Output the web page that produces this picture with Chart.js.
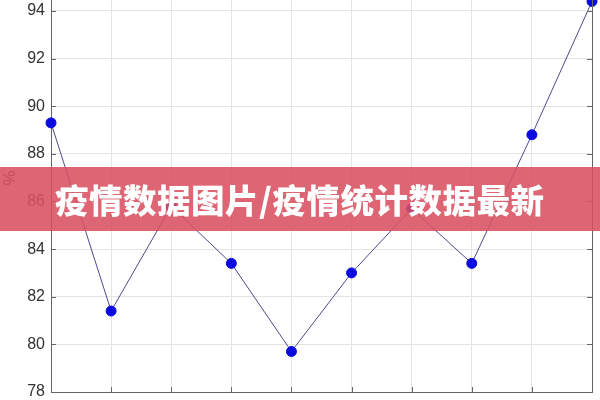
<!DOCTYPE html>
<html>
<head>
<meta charset="utf-8">
<script src="https://cdn.jsdelivr.net/npm/chart.js@4"></script>
<style>
  html, body { margin: 0; padding: 0; background: #fff; }
  #wrap { position: relative; width: 600px; height: 400px; }
  #ytitle {
    position: absolute; left: 0; top: 168px; width: 20px; height: 20px;
    font-family: "Liberation Sans", sans-serif; font-size: 17px; color: #333;
    line-height: 20px; text-align: center; transform: rotate(-90deg);
  }
  #banner {
    position: absolute; left: 0; top: 167px; width: 600px; height: 64px;
    background: rgba(218, 80, 96, 0.88);
    color: #fff; font-family: "Noto Sans CJK SC", sans-serif; font-weight: 900;
    font-size: 33.5px; line-height: 64px; padding-left: 55px; box-sizing: border-box;
    letter-spacing: 0.5px;
  }
</style>
</head>
<body>
<div id="wrap">
  <canvas id="lineChart" width="600" height="400"></canvas>
  <div id="ytitle">%</div>
  <div id="banner">疫情数据图片/疫情统计数据最新</div>
</div>
<script>
// Dados do gráfico
const categorias = [1, 2, 3, 4, 5, 6, 7, 8, 9, 10];
const valores = [89.3, 81.4, 85.8, 83.4, 79.7, 83.0, 85.7, 83.4, 88.8, 94.4];
const yTicks = [78, 80, 82, 84, 86, 88, 90, 92, 94];

// Moldura e marcas internas (estilo matlab)
const frame = {
  id: 'frame',
  afterDraw(chart) {
    const { ctx, chartArea, scales } = chart;
    ctx.save();
    ctx.strokeStyle = '#666';
    ctx.lineWidth = 1;
    ctx.beginPath();
    ctx.moveTo(chartArea.right + 0.5, chartArea.top);
    ctx.lineTo(chartArea.right + 0.5, chartArea.bottom);
    yTicks.forEach(v => {
      const y = Math.round(scales.y.getPixelForValue(v)) + 0.5;
      ctx.moveTo(chartArea.left, y);
      ctx.lineTo(chartArea.left + 5, y);
      ctx.moveTo(chartArea.right, y);
      ctx.lineTo(chartArea.right - 5, y);
    });
    categorias.forEach((c, i) => {
      const x = Math.round(scales.x.getPixelForValue(i)) + 0.5;
      ctx.moveTo(x, chartArea.bottom);
      ctx.lineTo(x, chartArea.bottom - 5);
    });
    ctx.stroke();
    ctx.restore();
  }
};

function initLineChart() {
  const ctx = document.getElementById('lineChart');
  if (!ctx) return;

  new Chart(ctx, {
    type: 'line',
    data: {
      labels: categorias,
      datasets: [{
        data: valores,
        borderColor: '#4b4b8c',
        borderWidth: 1,
        pointBackgroundColor: '#0a0ae0',
        pointBorderColor: '#0a0ae0',
        pointRadius: 5,
        tension: 0,
        fill: false,
        clip: false
      }]
    },
    options: {
      responsive: false,
      animation: false,
      layout: { autoPadding: false, padding: { top: 0, right: 8, left: 0, bottom: 0 } },
      plugins: {
        legend: { display: false },
        tooltip: { enabled: false }
      },
      scales: {
        x: {
          type: 'category',
          offset: false,
          grid: { color: '#e4e4e4', drawTicks: false },
          border: { color: '#666' },
          ticks: { display: false },
          afterFit(scale) {
            scale.height = 8;
            scale.paddingLeft = 0;
            scale.paddingRight = 0;
          }
        },
        y: {
          min: 78,
          max: 94.46,
          afterBuildTicks(scale) {
            scale.ticks = yTicks.map(v => ({ value: v }));
          },
          grid: { color: '#e4e4e4', drawTicks: false },
          border: { color: '#666' },
          ticks: {
            padding: 6,
            color: '#333',
            font: { family: 'Liberation Sans', size: 16 }
          },
          afterFit(scale) {
            scale.width = 51;
            scale.paddingTop = 0;
            scale.paddingBottom = 0;
          }
        }
      }
    },
    plugins: [frame]
  });
}

document.addEventListener('DOMContentLoaded', () => {
  initLineChart();
});
</script>
</body>
</html>
